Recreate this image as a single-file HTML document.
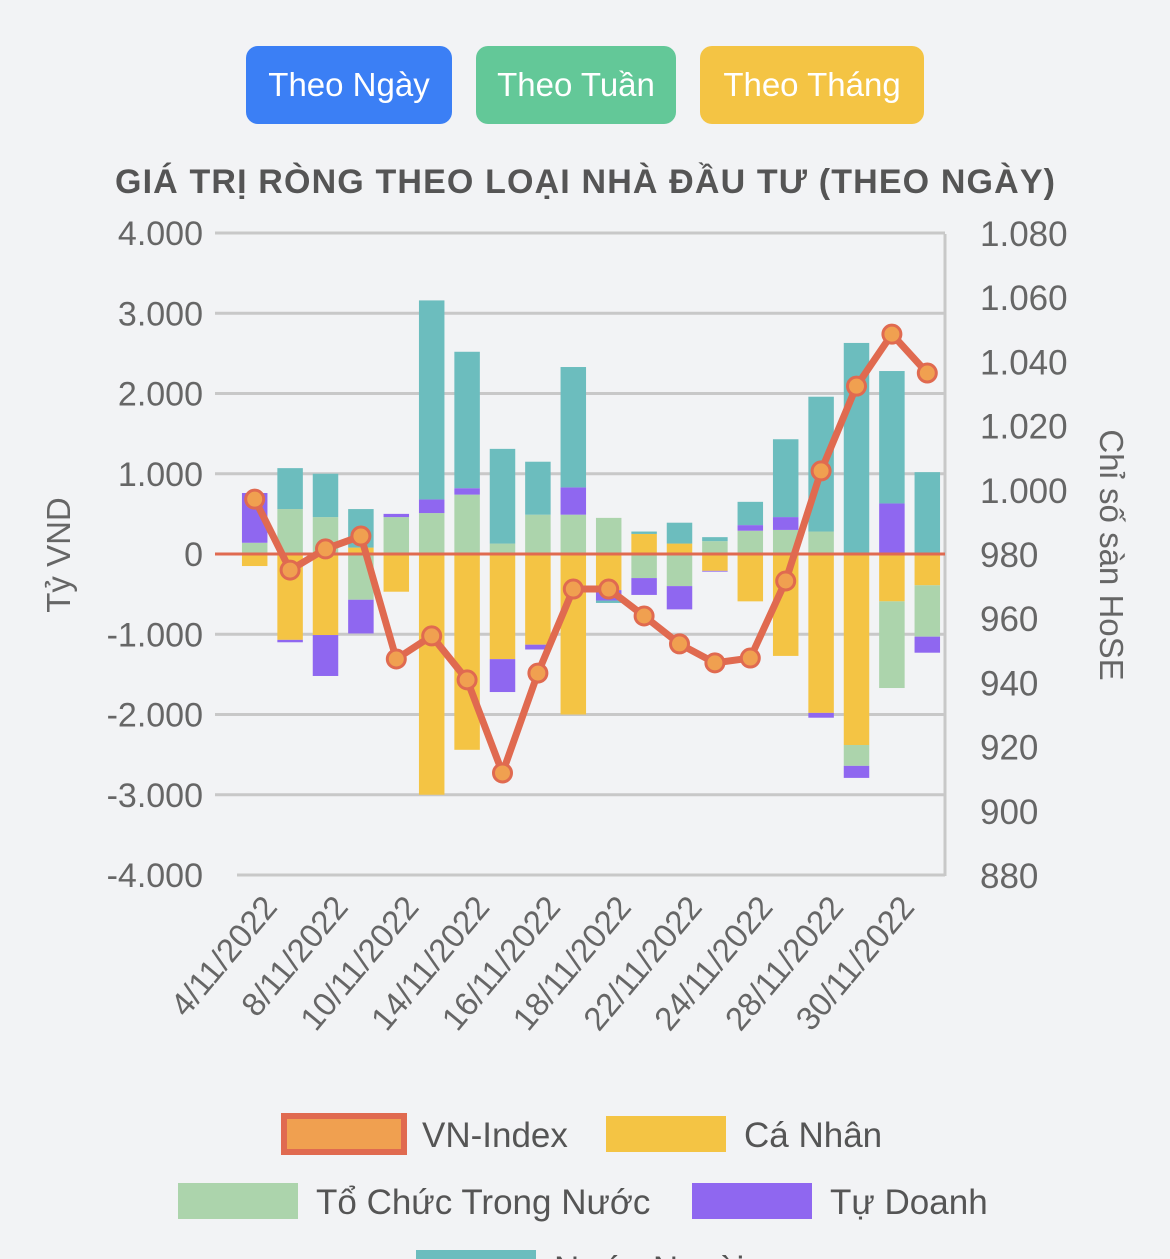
<!DOCTYPE html>
<html><head><meta charset="utf-8"><style>
body{margin:0;width:1170px;height:1259px;background:#f2f3f5;overflow:hidden;font-family:"Liberation Sans","Noto Sans CJK SC",sans-serif}
.btn{position:absolute;top:46px;height:78px;border-radius:12px;color:#fff;font-size:33px;line-height:78px;text-align:center}
</style></head><body>
<div class="btn" style="left:246px;width:206px;background:#3b7ff5">Theo Ngày</div>
<div class="btn" style="left:476px;width:200px;background:#63c898">Theo Tuần</div>
<div class="btn" style="left:700px;width:224px;background:#f4c444">Theo Tháng</div>
<svg id="c" width="1170" height="1259" style="position:absolute;left:0;top:0"></svg>
<script>
const dates=["4/11/2022","7/11/2022","8/11/2022","9/11/2022","10/11/2022","11/11/2022","14/11/2022","15/11/2022","16/11/2022","17/11/2022","18/11/2022","21/11/2022","22/11/2022","23/11/2022","24/11/2022","25/11/2022","28/11/2022","29/11/2022","30/11/2022","1/12/2022"];
const caNhan=[-150,-1070,-1010,80,-470,-3000,-2440,-1310,-1130,-2000,-450,250,130,-210,-590,-1270,-1980,-2380,-590,-390];
const toChuc=[140,560,460,-570,460,510,740,130,490,490,450,-300,-400,160,290,300,280,-260,-1080,-640];
const tuDoanh=[620,-30,-510,-420,40,170,80,-410,-60,340,-130,-210,-290,-10,70,160,-60,-150,630,-200];
const nuocNgoai=[0,510,540,480,0,2480,1700,1180,660,1500,-30,30,260,50,290,970,1680,2630,1650,1020];
const vnIndex=[997.4,975.3,981.9,985.9,947.6,954.8,941.1,912.1,943.2,969.4,969.4,961,952.3,946.4,947.9,971.9,1006.2,1032.6,1048.8,1036.7];
const leftTicks=[4000,3000,2000,1000,0,-1000,-2000,-3000,-4000];
const rightTicks=[1080,1060,1040,1020,1000,980,960,940,920,900,880];
const ns="http://www.w3.org/2000/svg",svg=document.getElementById('c');
function el(t,a,p){const e=document.createElementNS(ns,t);for(const k in a)e.setAttribute(k,a[k]);(p||svg).appendChild(e);return e;}
const X0=237,X1=945,n=dates.length,bw=(X1-X0)/n;
const yL=v=>554-v*0.08025, yR=v=>234+(1080-v)*3.21, xc=i=>X0+bw*(i+.5);
let t=el('text',{x:585,y:193,'text-anchor':'middle','font-size':34,'font-weight':'bold',fill:'#555',textLength:940});t.textContent='GIÁ TRỊ RÒNG THEO LOẠI NHÀ ĐẦU TƯ (THEO NGÀY)';

leftTicks.forEach(v=>{const y=yL(v);
 let l=el('line',{x1:v==-4000?237:215,x2:945,y1:y,y2:y,stroke:'#c8c8c8','stroke-width':3});
 let tx=el('text',{x:203,y:y+12,'text-anchor':'end','font-size':34,fill:'#666'});tx.textContent=v.toLocaleString('de-DE');
 });
el('line',{x1:945,x2:945,y1:234,y2:876,stroke:'#c8c8c8','stroke-width':3});
rightTicks.forEach(v=>{let tx=el('text',{x:980,y:yR(v)+12,'font-size':35,fill:'#666'});tx.textContent=v.toLocaleString('de-DE');
 });
t=el('text',{x:0,y:0,transform:'translate(70,555) rotate(-90)','text-anchor':'middle','font-size':33,fill:'#666'});t.textContent='Tỷ VND';

t=el('text',{x:0,y:0,transform:'translate(1100,555) rotate(90)','text-anchor':'middle','font-size':33,fill:'#666'});t.textContent='Chỉ số sàn HoSE';

const series=[[caNhan,'#f4c444'],[toChuc,'#acd4ac'],[tuDoanh,'#8f67f0'],[nuocNgoai,'#6cbdbe']];
for(let i=0;i<n;i++){let pos=0,neg=0;
 series.forEach(([d,c])=>{const v=d[i];if(!v)return;let a,b;if(v>0){a=pos;b=pos+v;pos=b}else{a=neg;b=neg+v;neg=b}
  const r=el('rect',{x:xc(i)-bw*0.36,width:bw*0.72,y:Math.min(yL(a),yL(b)),height:Math.abs(yL(a)-yL(b)),fill:c});
  });
 if(i%2==0){const tx=el('text',{x:0,y:0,transform:`translate(${xc(i)+24},${908}) rotate(-50)`,'text-anchor':'end','font-size':33,fill:'#666'});tx.textContent=dates[i];
  }}
el('line',{x1:215,x2:945,y1:554,y2:554,stroke:'#e06a50','stroke-width':3});
const pl=el('polyline',{points:vnIndex.map((v,i)=>xc(i)+','+yR(v)).join(' '),fill:'none',stroke:'#e06a50','stroke-width':7,'stroke-linejoin':'round'});

vnIndex.forEach((v,i)=>{const c=el('circle',{cx:xc(i),cy:yR(v),r:9,fill:'#f0a050',stroke:'#e06a50','stroke-width':3});
 });
const leg=[['VN-Index','#f0a050',284,1116,'#e06a50'],['Cá Nhân','#f4c444',606,1116],['Tổ Chức Trong Nước','#acd4ac',178,1183],['Tự Doanh','#8f67f0',692,1183],['Nước Ngoài','#6cbdbe',416,1250]];
leg.forEach(([s,c,x,y,st])=>{const g=el('g',{});
 el('rect',{x:x,y:y,width:120,height:36,fill:c,stroke:st||'none','stroke-width':st?6:0},g);
 const tx=el('text',{x:x+138,y:y+31,'font-size':35,fill:'#555'},g);tx.textContent=s;});
</script>
</body></html>
